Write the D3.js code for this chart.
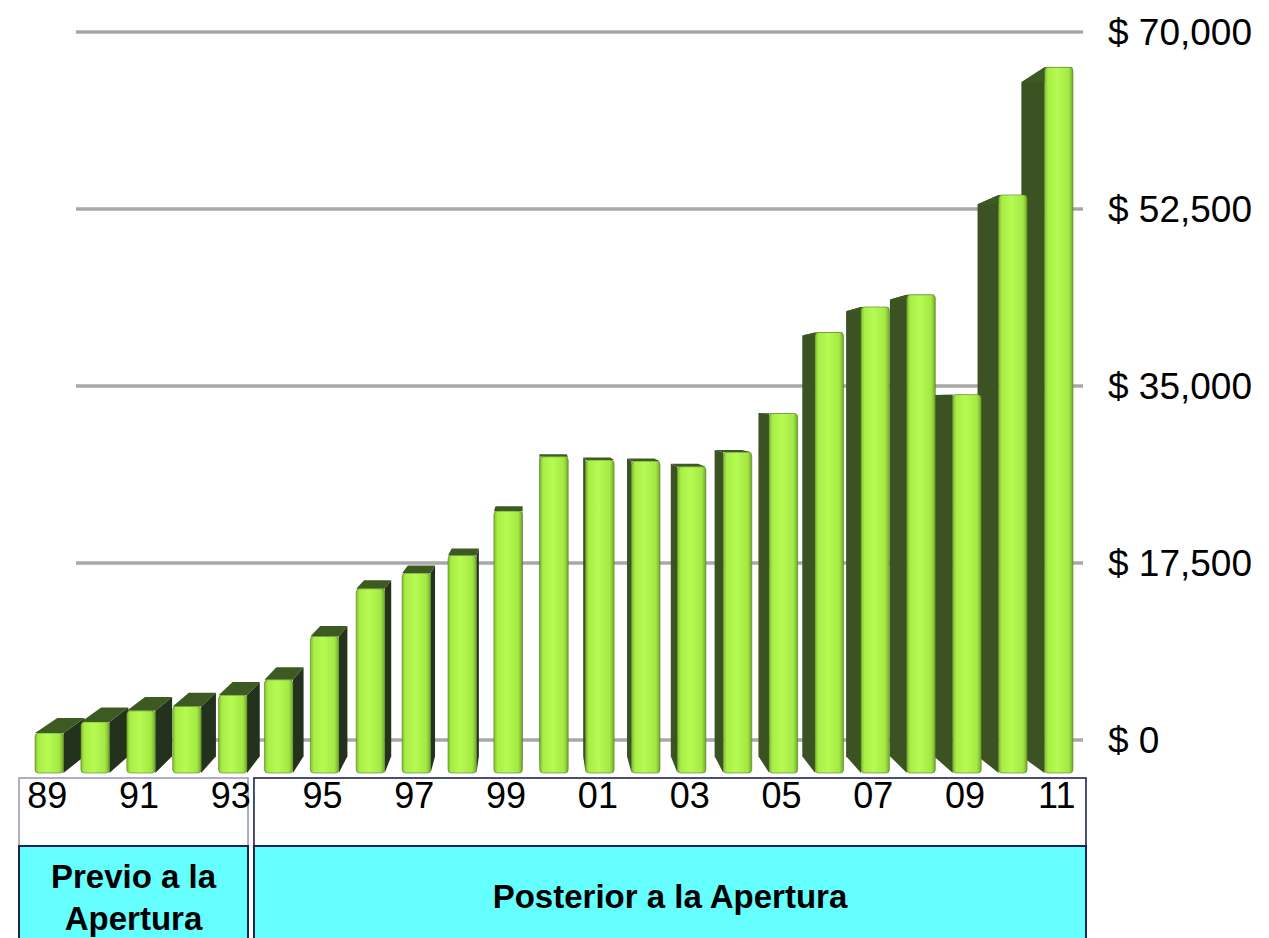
<!DOCTYPE html>
<html>
<head>
<meta charset="utf-8">
<script src="https://cdn.jsdelivr.net/npm/d3@7"></script>
<style>
  body { margin: 0; background: #fff; }
  svg { display: block; font-family: "Liberation Sans", Arial, sans-serif; }
</style>
</head>
<body>
<script>
// data
const years = ["89", "90", "91", "92", "93", "94", "95", "96", "97", "98", "99", "00",
    "01", "02", "03", "04", "05", "06", "07", "08", "09", "10", "11"];
const values = [3600, 4600, 5600, 6000, 7000, 8400, 12300, 16600, 18000, 19600, 23600, 28500,
    28200, 28100, 27600, 28900, 32400, 39700, 42000, 43100, 34100, 52100, 63600];
const yTicks = [0, 17500, 35000, 52500, 70000];
const yTickLabels = ["$ 0", "$ 17,500", "$ 35,000", "$ 52,500", "$ 70,000"];
const periodNames = [["Previo a la", "Apertura"], ["Posterior a la Apertura"]];
const periodFirst = ["89", "94"];
const periodLast = ["93", "11"];

function main() {
    const width = 1269;
    const height = 938;

    // perspective: vanishing point and depth of bar backs / back wall
    const VX = 530, VY = 400, KB = 0.045, KW = 0.0885;
    const proj = (px, py, k) => [px + k * (VX - px), py + k * (VY - py)];

    const x = d3.scaleBand()
        .domain(years)
        .range([26.3, 1081.7])
        .paddingInner(0.38)
        .paddingOuter(0.19);
    const y = d3.scaleLinear().domain([0, 70000]).range([773, -3.7]);

    const svg = d3.select("body").append("svg")
        .attr("width", width)
        .attr("height", height);

    const defs = svg.append("defs");
    defs.append("filter").attr("id", "soft")
        .append("feGaussianBlur").attr("stdDeviation", 0.7);

    const grad = defs.append("linearGradient").attr("id", "front")
        .attr("x1", 0).attr("x2", 1).attr("y1", 0).attr("y2", 0);
    [[0, "#7fbd2c"], [0.12, "#a9ee47"], [0.45, "#b6fb52"], [0.85, "#a4e844"], [1, "#72ab28"]]
        .forEach(([o, c]) => grad.append("stop").attr("offset", o).attr("stop-color", c));

    // gridlines on the back wall
    const wallL = 31.9, wallR = 1136.7;
    svg.append("g")
        .attr("filter", "url(#soft)")
        .selectAll("line")
        .data(yTicks)
        .join("line")
        .attr("x1", d => proj(wallL, y(d), KW)[0])
        .attr("x2", d => proj(wallR, y(d), KW)[0])
        .attr("y1", d => proj(wallL, y(d), KW)[1])
        .attr("y2", d => proj(wallR, y(d), KW)[1])
        .attr("stroke", "#a8a8a8")
        .attr("stroke-width", 3.5);

    // value labels on the right
    svg.append("g")
        .selectAll("text")
        .data(yTicks)
        .join("text")
        .attr("x", 1108)
        .attr("y", d => proj(wallR, y(d), KW)[1] + 13)
        .attr("font-size", 37)
        .attr("fill", "#000")
        .text((d, i) => yTickLabels[i]);

    // bars, painted from the outside in toward the vanishing point
    const bw = x.bandwidth();
    const bars = years.map((yr, i) => {
        const x0 = x(yr), x1 = x0 + bw;
        return {yr, v: values[i], x0, x1, cx: x0 + bw / 2};
    }).sort((a, b) => Math.abs(b.cx - VX) - Math.abs(a.cx - VX));

    const line = d3.line();
    const barG = svg.append("g").attr("filter", "url(#soft)")
        .selectAll("g")
        .data(bars)
        .join("g");

    barG.append("path")
        .attr("fill", d => d.cx < VX ? "#23301a" : "#3b5323")
        .attr("d", d => {
            const sx = d.cx < VX ? d.x1 : d.x0;
            const yt = y(d.v), yb = y(0);
            return line([[sx, yt], [sx, yb], proj(sx, yb, KB), proj(sx, yt, KB)]) + "Z";
        });

    barG.append("path")
        .attr("fill", "#3e5a20")
        .attr("d", d => {
            const yt = y(d.v);
            return line([[d.x0, yt], [d.x1, yt], proj(d.x1, yt, KB), proj(d.x0, yt, KB)]) + "Z";
        });

    barG.append("rect")
        .attr("x", d => d.x0)
        .attr("y", d => y(d.v))
        .attr("width", bw)
        .attr("height", d => y(0) - y(d.v))
        .attr("rx", 3.5)
        .attr("fill", "url(#front)")
        .attr("stroke", "#4c7520")
        .attr("stroke-opacity", 0.55)
        .attr("stroke-width", 1);

    // period boxes
    const boxPad = [[16, 1], [10.5, 13]];
    const boxes = periodNames.map((name, i) => ({
        name,
        left: x(periodFirst[i]) - boxPad[i][0],
        right: x(periodLast[i]) + bw + boxPad[i][1]
    }));
    const labelTop = 778, labelBottom = 846;

    const boxG = svg.append("g");
    boxG.selectAll("rect.lab")
        .data(boxes)
        .join("rect")
        .attr("class", "lab")
        .attr("x", d => d.left)
        .attr("y", labelTop)
        .attr("width", d => d.right - d.left)
        .attr("height", labelBottom - labelTop)
        .attr("fill", "#fff")
        .attr("stroke", (d, i) => i === 0 ? "#9a9ab8" : "#1e2454")
        .attr("stroke-width", 1.6);

    boxG.selectAll("rect.cy")
        .data(boxes)
        .join("rect")
        .attr("class", "cy")
        .attr("x", d => d.left)
        .attr("y", labelBottom)
        .attr("width", d => d.right - d.left)
        .attr("height", 120)
        .attr("fill", "#66ffff")
        .attr("stroke", "#1e2454")
        .attr("stroke-width", 2);

    boxG.selectAll("text")
        .data(boxes)
        .join("text")
        .attr("text-anchor", "middle")
        .attr("font-size", 33)
        .attr("font-weight", "bold")
        .attr("fill", "#000")
        .selectAll("tspan")
        .data(d => d.name.map(t => ({t, cx: (d.left + d.right) / 2, n: d.name.length})))
        .join("tspan")
        .attr("x", d => d.cx)
        .attr("y", (d, i) => d.n === 1 ? 908 : 888 + i * 42)
        .text(d => d.t);

    // year labels
    const axis = svg.append("g")
        .attr("transform", "translate(-2,808)")
        .call(d3.axisBottom(x).tickValues(years.filter((d, i) => i % 2 === 0)).tickSize(0));
    axis.select(".domain").remove();
    axis.selectAll("text")
        .attr("y", 0)
        .attr("dy", 0)
        .attr("font-size", 36)
        .attr("font-family", "'Liberation Sans', Arial, sans-serif")
        .attr("fill", "#000");
}

addEventListener('DOMContentLoaded', main)
</script>
</body>
</html>
